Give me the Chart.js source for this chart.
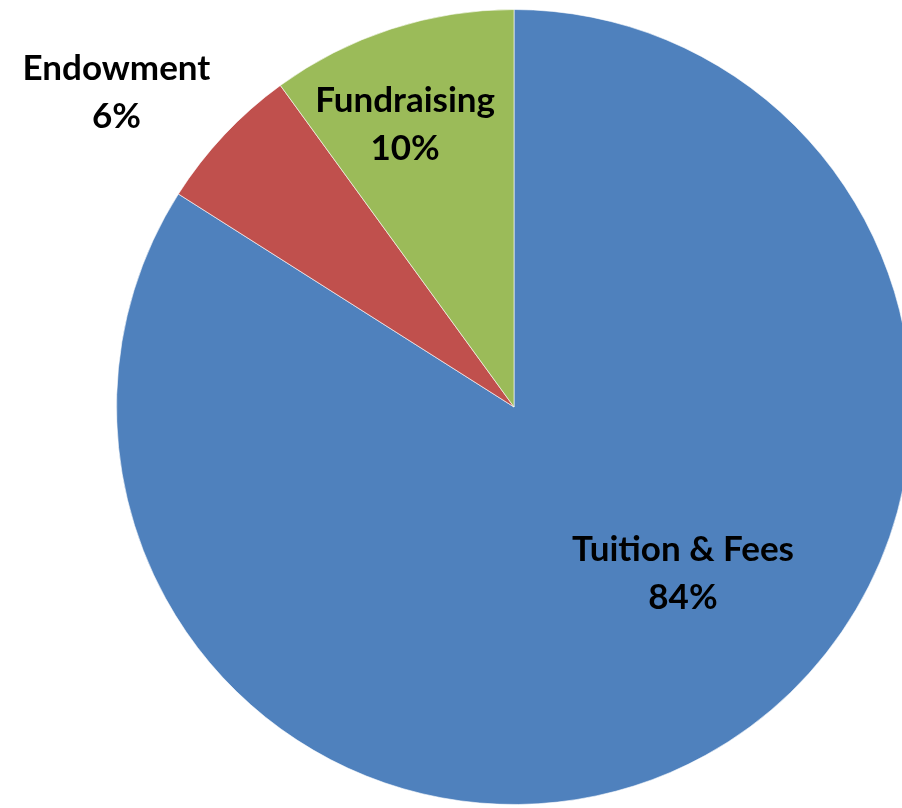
<!DOCTYPE html>
<html>
<head>
<meta charset="utf-8">
<script src="https://cdn.jsdelivr.net/npm/chart.js@4"></script>
<style>
  html, body { margin: 0; padding: 0; background: #fff; overflow: hidden; }
  #wrap { width: 920px; height: 808px; }
</style>
</head>
<body>
<div id="wrap"><canvas id="pieChart"></canvas></div>
<script>
const categories = ['Tuition & Fees', 'Endowment', 'Fundraising'];
const shares = [84, 6, 10];
const colors = ['#4F81BD', '#C0504D', '#9BBB59'];

// label anchor offsets, as a fraction of the pie radius from its centre
const labelOffsets = [[0.425, 0.42], [-1.0, -0.79], [-0.274, -0.71]];

const sliceLabels = {
  id: 'sliceLabels',
  afterDatasetsDraw(chart) {
    const ctx = chart.ctx;
    const arcs = chart.getDatasetMeta(0).data;
    ctx.save();
    ctx.font = 'bold 35px Lato, "Open Sans", sans-serif';
    ctx.fillStyle = '#000';
    ctx.textAlign = 'center';
    ctx.textBaseline = 'middle';
    arcs.forEach((arc, i) => {
      const { x, y, outerRadius } = arc.getProps(['x', 'y', 'outerRadius'], true);
      const lx = x + labelOffsets[i][0] * outerRadius;
      const ly = y + labelOffsets[i][1] * outerRadius;
      ctx.fillText(categories[i], lx, ly - 24);
      ctx.fillText(shares[i] + '%', lx, ly + 24);
    });
    ctx.restore();
  }
};

new Chart(document.getElementById('pieChart'), {
  type: 'pie',
  data: {
    labels: categories,
    datasets: [{ data: shares, backgroundColor: colors, borderColor: 'rgba(255,255,255,0.6)', borderWidth: 1 }]
  },
  options: {
    responsive: true,
    maintainAspectRatio: false,
    animation: false,
    layout: { padding: { left: 116, right: 8, top: 6, bottom: 0 } },
    plugins: { legend: { display: false }, tooltip: { enabled: false } }
  },
  plugins: [sliceLabels]
});
</script>
</body>
</html>
